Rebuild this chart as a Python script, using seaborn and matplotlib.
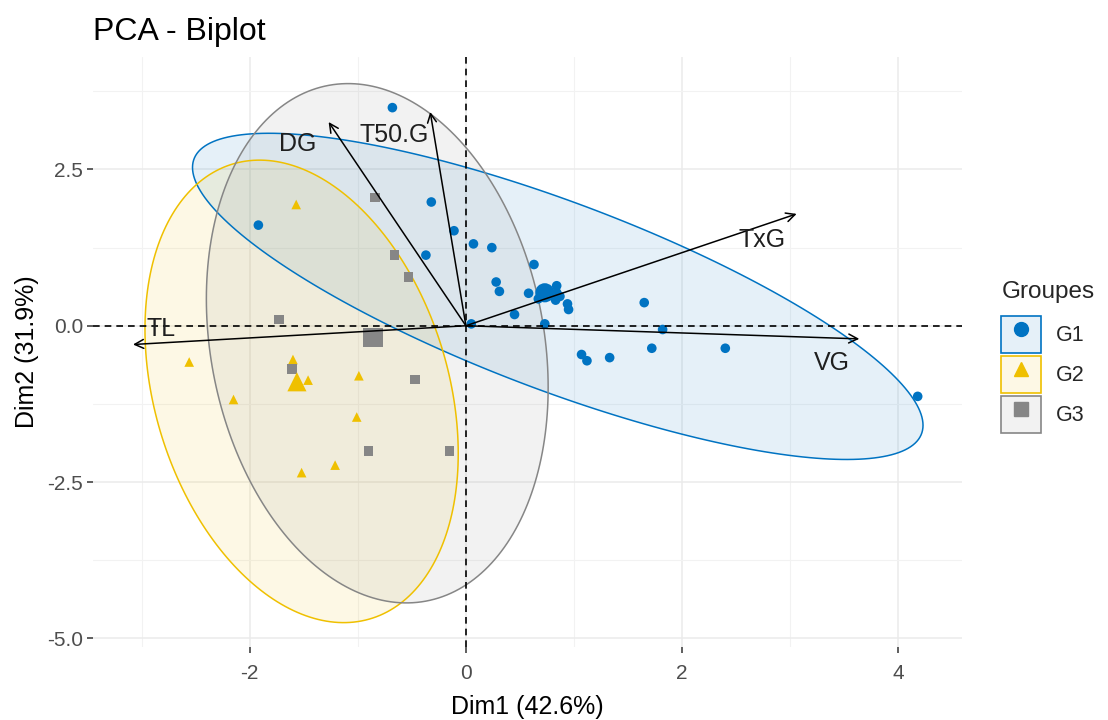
import numpy as np
import pandas as pd
import matplotlib
matplotlib.use("Agg")
import matplotlib.pyplot as plt
from matplotlib.patches import Patch, Polygon
from matplotlib.lines import Line2D
from matplotlib.legend_handler import HandlerTuple
from matplotlib.ticker import MultipleLocator, FormatStrFormatter
import seaborn as sns

# individuals (scores on Dim1 / Dim2)
g1_x = [-0.68, -1.92, -0.32, -0.11, 0.07, 0.24, -0.37, 0.63, 0.28, 0.31, 0.58,
        0.67, 0.84, 0.84, 0.87, 0.83, 0.94, 0.95, 0.45, 0.05, 0.73, 1.65, 1.82,
        1.07, 1.12, 1.33, 1.72, 2.40, 4.18]
g1_y = [3.49, 1.61, 1.98, 1.52, 1.31, 1.25, 1.13, 0.98, 0.70, 0.55, 0.52,
        0.43, 0.64, 0.53, 0.47, 0.41, 0.35, 0.26, 0.18, 0.03, 0.03, 0.37, -0.06,
        -0.46, -0.56, -0.51, -0.36, -0.36, -1.13]
g2_x = [-2.56, -1.60, -1.46, -0.99, -2.15, -1.01, -1.21, -1.52, -1.57]
g2_y = [-0.58, -0.54, -0.87, -0.80, -1.18, -1.46, -2.23, -2.35, 1.94]
g3_x = [-0.84, -0.66, -0.53, -1.73, -1.61, -0.47, -0.90, -0.15, -0.85]
g3_y = [2.05, 1.13, 0.78, 0.10, -0.69, -0.86, -2.00, -2.00, -0.22]

# 95% ellipses: centre and shape matrix (sxx, syy, sxy) per group
ell_cx = [0.85, -1.52, -0.82]
ell_cy = [0.47, -1.05, -0.28]
ell_sxx = [11.42, 2.10, 2.50]
ell_syy = [6.81, 13.69, 17.26]
ell_sxy = [-6.97, -1.44, -1.12]

# variables (arrows)
var_names = ["DG", "T50.G", "TxG", "VG", "TL"]
var_x = [-1.27, -0.33, 3.06, 3.64, -3.08]
var_y = [3.26, 3.42, 1.79, -0.21, -0.30]
lab_x = [-1.56, -0.66, 2.74, 3.39, -2.82]
lab_y = [2.91, 3.05, 1.37, -0.60, -0.06]

groups = ["G1", "G2", "G3"]
colors = ["#0073C2", "#EFC000", "#868686"]
markers = ["o", "^", "s"]

df = pd.DataFrame({
    "Dim1": g1_x + g2_x + g3_x,
    "Dim2": g1_y + g2_y + g3_y,
    "Groupes": ["G1"] * len(g1_x) + ["G2"] * len(g2_x) + ["G3"] * len(g3_x),
})
means = df.groupby("Groupes")[["Dim1", "Dim2"]].mean().reset_index()

sns.set_theme(style="whitegrid")
plt.rcParams["font.family"] = ["Liberation Sans", "DejaVu Sans"]
plt.rcParams["axes.unicode_minus"] = False

fig = plt.figure(figsize=(11.08, 7.2), dpi=100)
ax = fig.add_axes([93 / 1108, 1 - 647 / 720, (962 - 93) / 1108, (647 - 57) / 720])
ax.set_facecolor("white")

t = np.linspace(0, 2 * np.pi, 241)
unit = np.column_stack([np.cos(t), np.sin(t)])
for i, c in enumerate(colors):
    shape = np.array([[ell_sxx[i], ell_sxy[i]], [ell_sxy[i], ell_syy[i]]])
    poly = np.array([ell_cx[i], ell_cy[i]]) + unit @ np.linalg.cholesky(shape).T
    ax.add_patch(Polygon(poly, closed=True, facecolor=c, alpha=0.1, edgecolor="none", zorder=2))
    ax.add_patch(Polygon(poly, closed=True, facecolor="none", edgecolor=c, lw=1.1, zorder=2.1))

pal = dict(zip(groups, colors))
mks = dict(zip(groups, markers))
sns.scatterplot(data=df, x="Dim1", y="Dim2", hue="Groupes", style="Groupes",
                palette=pal, markers=mks, s=48, edgecolor="none", legend=False,
                ax=ax, zorder=3)
sns.scatterplot(data=means, x="Dim1", y="Dim2", hue="Groupes", style="Groupes",
                palette=pal, markers=mks, s=190, edgecolor="none", legend=False,
                ax=ax, zorder=3)

ax.axhline(0, color="black", lw=1.2, ls=(0, (4, 3)), zorder=4)
ax.axvline(0, color="black", lw=1.2, ls=(0, (4, 3)), zorder=4)

for name, vx, vy, lx, ly in zip(var_names, var_x, var_y, lab_x, lab_y):
    ax.annotate("", xy=(vx, vy), xytext=(0, 0),
                arrowprops=dict(arrowstyle="->", color="black", lw=1.1,
                                shrinkA=0, shrinkB=0, mutation_scale=16),
                zorder=5)
    ax.text(lx, ly, name, fontsize=18, color="#1f1f1f", ha="center", va="center", zorder=6)

ax.set_xlim(-3.45, 4.59)
ax.set_ylim(-5.14, 4.30)
ax.xaxis.set_major_locator(MultipleLocator(2))
ax.xaxis.set_minor_locator(MultipleLocator(1))
ax.yaxis.set_major_locator(MultipleLocator(2.5))
ax.yaxis.set_minor_locator(MultipleLocator(1.25))
ax.yaxis.set_major_formatter(FormatStrFormatter("%.1f"))
ax.grid(which="major", color="#EBEBEB", lw=1.1)
ax.grid(which="minor", color="#F2F2F2", lw=0.8)
for sp in ax.spines.values():
    sp.set_visible(False)
ax.tick_params(axis="both", which="major", length=4, width=1.1, color="#333333",
               labelsize=15, labelcolor="#4D4D4D", bottom=True, left=True)
ax.tick_params(axis="x", pad=8)
ax.tick_params(axis="y", pad=3)
ax.tick_params(which="minor", length=0)
ax.set_xlabel("Dim1 (42.6%)", fontsize=18, color="black", labelpad=9)
ax.set_ylabel("Dim2 (31.9%)", fontsize=18, color="black", labelpad=6)
ax.set_title("PCA - Biplot", loc="left", fontsize=23, color="black", pad=12)

handles = []
for c, m in zip(colors, markers):
    box = Patch(facecolor=matplotlib.colors.to_rgba(c, 0.1), edgecolor=c, lw=1.2)
    mk = Line2D([], [], marker=m, color=c, ls="none", markersize=10)
    handles.append((box, mk))
leg = fig.legend(handles, groups, handler_map={tuple: HandlerTuple(ndivide=1, pad=0)},
                 loc="upper left", bbox_to_anchor=(982 / 1108, 1 - 262 / 720),
                 title="Groupes", fontsize=15.5, title_fontsize=17.5, frameon=False,
                 handlelength=1.85, handleheight=2.3, labelspacing=0.12, handletextpad=0.7)
leg._legend_box.align = "left"
leg._legend_box.sep = 9

fig.savefig("out.png", dpi=100)
